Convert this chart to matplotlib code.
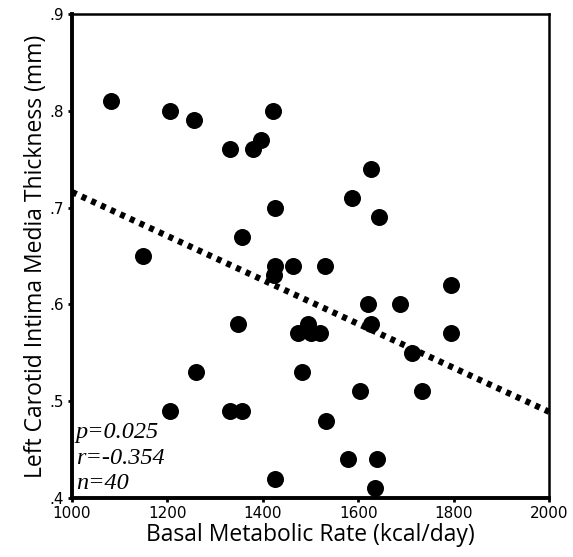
import matplotlib.pyplot as plt

# basal metabolic rate (kcal/day) vs left carotid IMT (mm)
bmr = [1082, 1205, 1256, 1331, 1379, 1396, 1421, 1149, 1356, 1426,
       1426, 1423, 1463, 1530, 1587, 1627, 1644, 1621, 1627, 1688,
       1795, 1795, 1713, 1734, 1348, 1260, 1205, 1331, 1356, 1426,
       1474, 1495, 1500, 1520, 1482, 1604, 1532, 1579, 1639, 1635]
imt = [0.81, 0.80, 0.79, 0.76, 0.76, 0.77, 0.80, 0.65, 0.67, 0.70,
       0.64, 0.63, 0.64, 0.64, 0.71, 0.74, 0.69, 0.60, 0.58, 0.60,
       0.62, 0.57, 0.55, 0.51, 0.58, 0.53, 0.49, 0.49, 0.49, 0.42,
       0.57, 0.58, 0.57, 0.57, 0.53, 0.51, 0.48, 0.44, 0.44, 0.41]

# fitted line as drawn
trend_x = [1000, 2000]
trend_y = [0.716, 0.489]

x_ticks = [1000, 1200, 1400, 1600, 1800, 2000]
y_ticks = [0.4, 0.5, 0.6, 0.7, 0.8, 0.9]
y_labels = ['.4', '.5', '.6', '.7', '.8', '.9']

stats = ['p=0.025', 'r=-0.354', 'n=40']

fig = plt.figure(figsize=(5.73, 5.57), dpi=100)
ax = fig.add_axes([0.1257, 0.106, 0.8325, 0.869])

ax.scatter(bmr, imt, s=150, color='black', zorder=3, linewidths=0)
ax.plot(trend_x, trend_y, color='black', linestyle=(0, (0.8, 0.9)),
        linewidth=4.5, zorder=2, clip_on=False)

ax.set_xlim(1000, 2000)
ax.set_ylim(0.4, 0.9)
ax.set_xticks(x_ticks)
ax.set_yticks(y_ticks)
ax.set_yticklabels(y_labels)
ax.tick_params(direction='out', length=3, width=2, labelsize=11, pad=3)

for side in ['left', 'bottom']:
    ax.spines[side].set_linewidth(2.8)
for side in ['top', 'right']:
    ax.spines[side].set_linewidth(1.8)

ax.set_xlabel('Basal Metabolic Rate (kcal/day)', fontsize=16.5, family='Open Sans', labelpad=1)
ax.set_ylabel('Left Carotid Intima Media Thickness (mm)', fontsize=16.5, family='Open Sans', labelpad=1)

for i, s in enumerate(stats):
    ax.text(0.008, 0.135 - i * 0.053, s, transform=ax.transAxes,
            family='Liberation Serif', style='italic', fontsize=17.5, va='center')

fig.savefig('out.png', dpi=100)
